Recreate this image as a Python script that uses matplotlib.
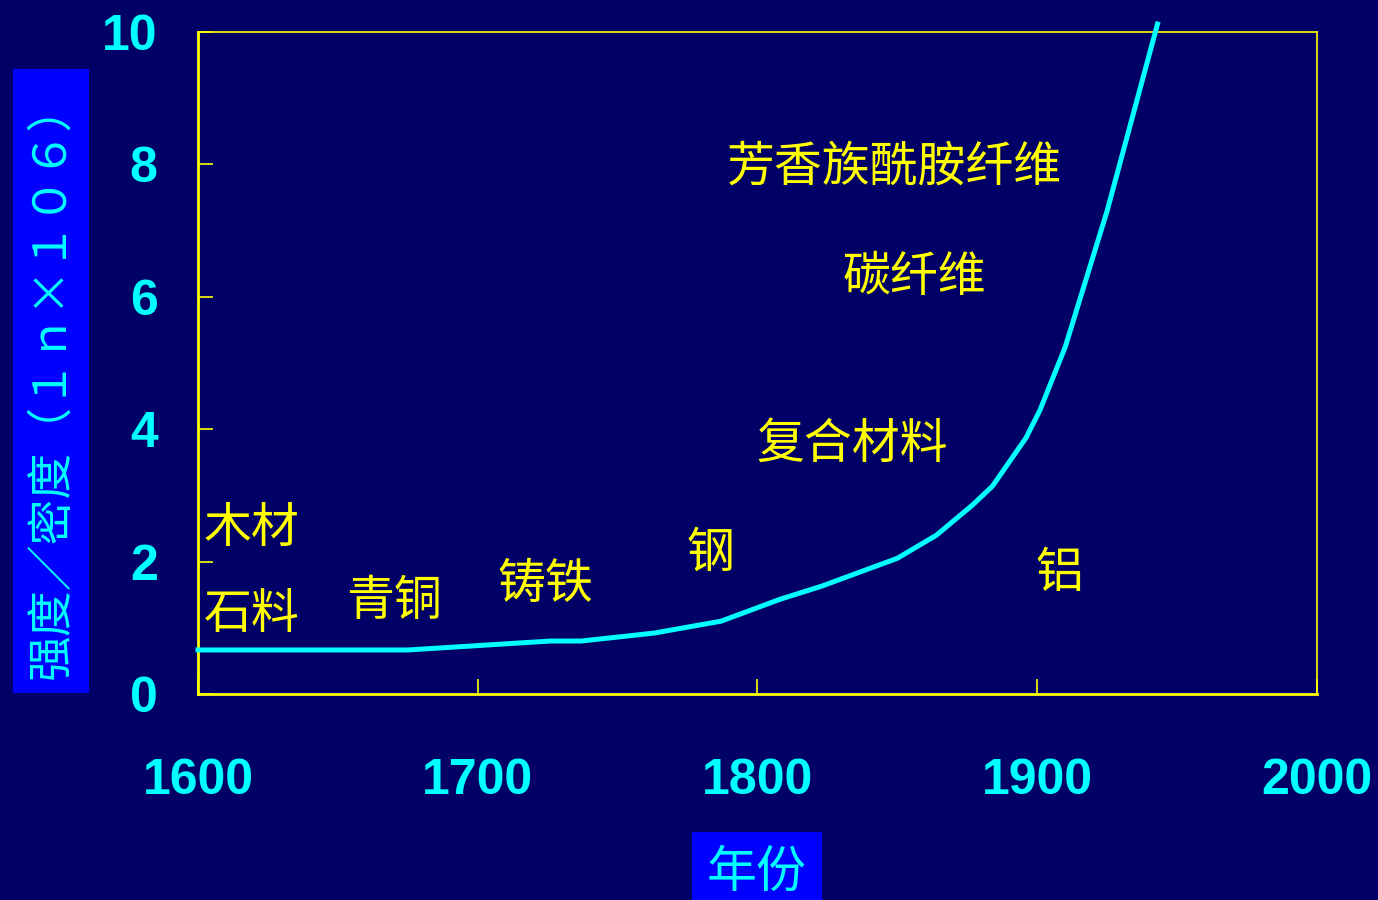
import matplotlib
matplotlib.use("Agg")
import matplotlib.pyplot as plt

plt.rcParams['font.family'] = ['Noto Sans CJK SC', 'DejaVu Sans']

BG = "#000066"
YELLOW = "#ffff00"
CYAN = "#00ffff"
BLUE = "#0000ff"

# curve: year vs strength/density
YEARS = [1600, 1675, 1726, 1737, 1763, 1787, 1808, 1823, 1850, 1864,
         1877, 1884, 1896, 1901, 1910, 1925, 1943]
STRENGTH = [0.665, 0.665, 0.80, 0.80, 0.92, 1.10, 1.43, 1.63, 2.05, 2.40,
            2.86, 3.14, 3.87, 4.29, 5.24, 7.30, 10.12]

# material labels and where they sit (data coords)
MATERIALS = ["芳香族酰胺纤维", "碳纤维", "复合材料", "木材", "石料",
             "青铜", "铸铁", "钢", "铝"]
MAT_X = [1849, 1856, 1834, 1619, 1619, 1670, 1724, 1783, 1908]
MAT_Y = [7.96, 6.30, 3.78, 2.51, 1.21, 1.40, 1.66, 2.13, 1.83]

X_TICKS = [1600, 1700, 1800, 1900, 2000]
Y_TICKS = [0, 2, 4, 6, 8, 10]

fig = plt.figure(figsize=(13.78, 9.0), dpi=100, facecolor=BG)
ax = fig.add_axes([0.1437, 0.2289, 0.8120, 0.7355], facecolor=BG)

ax.plot(YEARS, STRENGTH, color=CYAN, lw=3.6, clip_on=False,
        solid_joinstyle="miter", zorder=3)

for name, mx, my in zip(MATERIALS, MAT_X, MAT_Y):
    ax.text(mx, my, name, color=YELLOW, fontsize=34.5,
            ha="center", va="center")

ax.set_xlim(1600, 2000)
ax.set_ylim(0, 10)
ax.set_xticks(X_TICKS)
ax.set_yticks(Y_TICKS)

for side in ["left", "bottom"]:
    ax.spines[side].set_color(YELLOW)
    ax.spines[side].set_linewidth(2)
for side in ["top", "right"]:
    ax.spines[side].set_color(YELLOW)
    ax.spines[side].set_linewidth(1.2)

ax.tick_params(axis="both", direction="in", color=YELLOW, width=1.2,
               length=11, labelcolor=CYAN)
ax.tick_params(axis="x", pad=46)
ax.tick_params(axis="y", pad=29)
for lab in ax.get_xticklabels() + ax.get_yticklabels():
    lab.set_fontfamily("Liberation Sans")
    lab.set_fontweight("bold")
    lab.set_fontsize(36)

fig.text(0.037, 0.577, "强度／密度（１ｎ×１０６）", rotation=90,
         color=CYAN, fontsize=33, ha="center", va="center",
         bbox=dict(boxstyle="square,pad=0.3", fc=BLUE, ec="none"))
fig.text(0.549, 0.030, "年份", color=CYAN, fontsize=36,
         ha="center", va="center",
         bbox=dict(boxstyle="square,pad=0.3", fc=BLUE, ec="none"))

fig.savefig("out.png", dpi=100, facecolor=BG)
